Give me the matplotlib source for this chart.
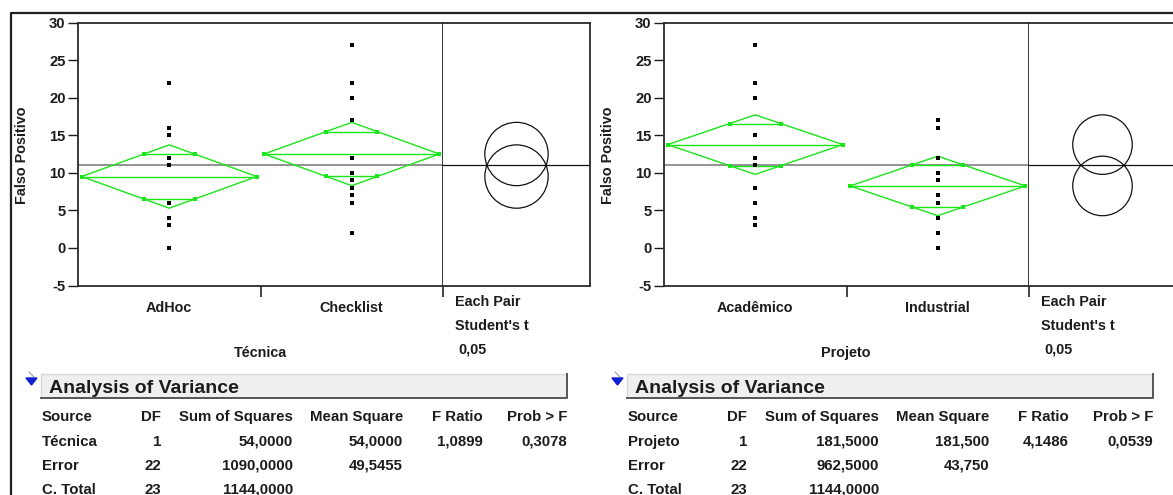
#!/usr/bin/env python3
"""One-way ANOVA panels (JMP style) for Falso Positivo by Técnica and by Projeto."""

import matplotlib

matplotlib.use("Agg")
import matplotlib.pyplot as plt
import numpy as np
from matplotlib.patches import Circle, Polygon, Rectangle

# ---- data ----
y_label = "Falso Positivo"

tecnica_name = "Técnica"
tecnica_groups = ["AdHoc", "Checklist"]
adhoc = [22, 16, 15, 15, 12, 11, 6, 6, 4, 4, 3, 0]
checklist = [27, 22, 20, 17, 12, 10, 10, 9, 8, 7, 6, 2]

projeto_name = "Projeto"
projeto_groups = ["Acadêmico", "Industrial"]
academico = [27, 22, 22, 20, 15, 15, 12, 11, 8, 6, 4, 3]
industrial = [17, 16, 12, 10, 10, 9, 7, 6, 6, 4, 2, 0]

y_ticks = [-5, 0, 5, 10, 15, 20, 25, 30]
t_crit = 2.0739  # Student's t, alpha 0,05, 22 DF
compare_text = ["Each Pair", "Student's t", "0,05"]

anova_header = ["Source", "DF", "Sum of Squares", "Mean Square", "F Ratio", "Prob > F"]
anova_tecnica = [
    ["Técnica", "1", "54,0000", "54,0000", "1,0899", "0,3078"],
    ["Error", "22", "1090,0000", "49,5455", "", ""],
    ["C. Total", "23", "1144,0000", "", "", ""],
]
anova_projeto = [
    ["Projeto", "1", "181,5000", "181,500", "4,1486", "0,0539"],
    ["Error", "22", "962,5000", "43,750", "", ""],
    ["C. Total", "23", "1144,0000", "", "", ""],
]

W, H = 1173, 495
GREEN = "#19e619"
TXT = "#1c1c1c"
plt.rcParams["font.family"] = ["Liberation Sans", "DejaVu Sans"]


def rect(x1, y1, x2, y2):
    return [x1 / W, 1 - y2 / H, (x2 - x1) / W, (y2 - y1) / H]


def draw_panel(fig, ov, x0, groups, data, factor):
    top, bot = 22.5, 285.5
    ax = fig.add_axes(rect(x0 + 78, top, x0 + 443, bot))
    cax = fig.add_axes(rect(x0 + 443, top, x0 + 590, bot))

    allv = np.concatenate([np.asarray(d, float) for d in data])
    grand = allv.mean()
    sse = sum(((np.asarray(d, float) - np.mean(d)) ** 2).sum() for d in data)
    mse = sse / (len(allv) - len(data))

    ax.set_xlim(0, len(groups))
    ax.set_ylim(-5, 30)
    ax.axhline(grand, color="#8a8a8a", lw=1.3, zorder=1)
    hw = 0.48
    for i, vals in enumerate(data):
        cx = i + 0.5
        m = np.mean(vals)
        ci = t_crit * np.sqrt(mse / len(vals))
        ax.plot([cx] * len(vals), vals, "s", ms=2.3, mew=0, color="k", zorder=4)
        ax.plot([cx - hw, cx, cx + hw, cx, cx - hw], [m, m + ci, m, m - ci, m],
                color=GREEN, lw=1.0, zorder=3)
        ax.plot([cx - hw, cx + hw], [m, m], color=GREEN, lw=1.0, zorder=3)
        ax.plot([cx - hw, cx + hw], [m, m], "s", ms=2.8, mew=0, color=GREEN, zorder=3)
        d = ci / np.sqrt(2)
        w = hw * (1 - d / ci)
        for yy in (m + d, m - d):
            ax.plot([cx - w, cx + w], [yy, yy], color=GREEN, lw=1.0, zorder=3)
            ax.plot([cx - w, cx + w], [yy, yy], "s", ms=2.4, mew=0, color=GREEN, zorder=3)

        cax.add_patch(Circle((0, m), ci, fill=False, lw=0.9, color="#111111"))

    ax.set_yticks(y_ticks)
    ax.set_yticklabels([str(t) for t in y_ticks], fontweight="bold")
    ax.tick_params(axis="y", length=7, width=1.0, pad=2, labelsize=10.6,
                   colors=TXT)
    ax.set_xticks([i + 0.5 for i in range(len(groups))])
    ax.set_xticklabels(groups, fontsize=10.4, fontweight="bold", color=TXT)
    ax.tick_params(axis="x", which="major", length=0, pad=11)
    ax.set_xticks([1, 2], minor=True)
    ax.tick_params(axis="x", which="minor", length=8, width=1.2, color="#222222")
    for s in ax.spines.values():
        s.set_linewidth(1.3)
        s.set_color("#2a2a2a")

    pxu = 35 / (bot - top)
    half = 147 / 2 * pxu
    cax.set_xlim(-half, half)
    cax.set_ylim(-5, 30)
    cax.axhline(grand, color="#111111", lw=0.9)
    cax.set_xticks([])
    cax.set_yticks([])
    cax.spines["left"].set_visible(False)
    for s in ("top", "bottom", "right"):
        cax.spines[s].set_linewidth(1.3)
        cax.spines[s].set_color("#2a2a2a")

    # labels
    ov.text(x0 + 22, 155, y_label, rotation=90, ha="center", va="center",
            fontsize=10.4, fontweight="bold", color=TXT)
    ov.text(x0 + 260, 357, factor, ha="center", va="baseline",
            fontsize=10.4, fontweight="bold", color=TXT)
    for k, (txt, yb) in enumerate(zip(compare_text, [306, 330, 353])):
        ov.text(x0 + 455 + (3 if k == 2 else 0), yb, txt, ha="left",
                va="baseline", fontsize=10.4, fontweight="bold", color=TXT)


def draw_anova(ov, x0, rows):
    # disclosure triangle
    ov.add_patch(Polygon([[x0 + 26, 378], [x0 + 37, 378], [x0 + 31.5, 385]],
                         closed=True, color="#1020d0", zorder=5))
    ov.plot([x0 + 29, x0 + 34], [372, 377], color="#9a9a9a", lw=0.8)
    # header bar
    ov.add_patch(Rectangle((x0 + 41, 374), 526, 24, facecolor="#efefef",
                           edgecolor="none"))
    ov.plot([x0 + 41, x0 + 41, x0 + 567], [398, 374, 374], color="#d8d8d8", lw=1)
    ov.plot([x0 + 41, x0 + 567, x0 + 567], [398, 398, 374], color="#555555", lw=1.4)
    ov.text(x0 + 49, 393, "Analysis of Variance", ha="left", va="baseline",
            fontsize=14.0, fontweight="bold", color=TXT)

    col_x = [x0 + 42, x0 + 161, x0 + 293, x0 + 403, x0 + 483, x0 + 567]
    col_ha = ["left", "right", "right", "right", "right", "right"]
    row_y = [421, 446, 470, 494]
    for j, lab in enumerate(anova_header):
        ov.text(col_x[j], row_y[0], lab, ha=col_ha[j], va="baseline",
                fontsize=10.8, fontweight="bold", color=TXT)
    for r, row in enumerate(rows):
        for j, val in enumerate(row):
            ov.text(col_x[j], row_y[r + 1], val, ha=col_ha[j], va="baseline",
                    fontsize=10.8, fontweight="bold", color=TXT)


def main():
    fig = plt.figure(figsize=(W / 100, H / 100), dpi=100)
    fig.patch.set_facecolor("white")
    ov = fig.add_axes([0, 0, 1, 1], zorder=10)
    ov.set_xlim(0, W)
    ov.set_ylim(H, 0)
    ov.axis("off")

    draw_panel(fig, ov, 0, tecnica_groups, [adhoc, checklist], tecnica_name)
    draw_panel(fig, ov, 586, projeto_groups, [academico, industrial], projeto_name)
    draw_anova(ov, 0, anova_tecnica)
    draw_anova(ov, 586, anova_projeto)

    # outer report frame
    ov.plot([11, 11, W], [H, 13, 13], color="#202020", lw=1.6)

    fig.savefig("out.png", dpi=100)
    plt.close(fig)


if __name__ == "__main__":
    main()
